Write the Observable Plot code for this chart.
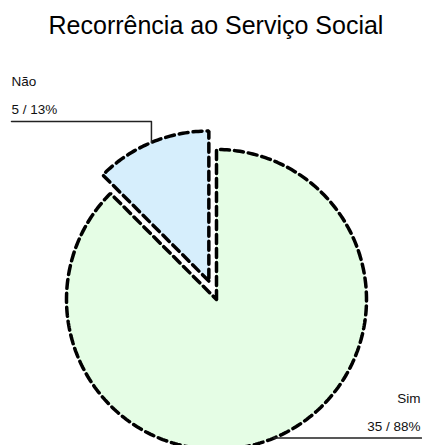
<!DOCTYPE html>
<html><head><meta charset="utf-8">
<script src="https://cdn.jsdelivr.net/npm/d3@7"></script>
<script src="https://cdn.jsdelivr.net/npm/@observablehq/plot@0.6"></script>
<style>
body{margin:0;background:#fff;font-family:"Liberation Sans",Arial,sans-serif;}
#title{height:50px;box-sizing:border-box;padding-top:13px;padding-left:10px;width:422px;text-align:center;font-size:25px;line-height:1;color:#000;white-space:nowrap;}
#chart svg{display:block;}
</style></head><body>
<div id="title">Recorrência ao Serviço Social</div>
<div id="chart"></div>
<script>
// ---- data ----
const categories = ["Sim", "Não"];
const counts = [35, 5];
const sliceColors = ["#e5fde5", "#d6eefc"];
const explodedSlices = ["Não"];

// ---- layout (pixels) ----
const W = 422, H = 395, R = 150, CX = 216, CY = 249;
const px = v => v / R; // pixel distance -> radius units
const xDomain = [-CX / R, (W - CX) / R];
const yDomain = [-(H - CY) / R, CY / R];

const total = d3.sum(counts);
const pcts = counts.map(v => Math.round(v / total * 100));
const arcs = d3.pie().sort(null)(counts);

const pt = (a, r, ox = 0, oy = 0) => ({x: ox + r * Math.sin(a), y: oy + r * Math.cos(a)});

const rows = [];
const info = [];
arcs.forEach((a, i) => {
  const cat = categories[i];
  const mid = (a.startAngle + a.endAngle) / 2;
  const off = explodedSlices.includes(cat) ? px(20) : 0;
  const o = pt(mid, off);
  rows.push({slice: cat, ...o});
  const n = Math.max(2, Math.ceil((a.endAngle - a.startAngle) / (Math.PI / 180)));
  for (let k = 0; k <= n; k++) {
    const ang = a.startAngle + (a.endAngle - a.startAngle) * k / n;
    rows.push({slice: cat, ...pt(ang, 1, o.x, o.y)});
  }
  rows.push({slice: cat, ...o});
  info.push({cat, count: counts[i], pct: pcts[i], mid, anchor: pt(mid, 1, o.x, o.y)});
});

// leaders
const leaderRows = [];
const labelRows = [];
info.forEach(d => {
  const a = d.anchor;
  const left = a.x < 0;
  let ly;
  if (a.y > 0) ly = a.y + px(21); else ly = a.y;
  const endX = left ? xDomain[0] + px(11) : xDomain[1] - px(1);
  leaderRows.push({cat: d.cat, x: a.x, y: a.y});
  if (ly !== a.y) leaderRows.push({cat: d.cat, x: a.x, y: ly});
  leaderRows.push({cat: d.cat, x: endX, y: ly});
  const tx = left ? endX : xDomain[1] - px(2);
  labelRows.push({cat: d.cat, x: tx, y: ly, name: d.cat, value: `${d.count} / ${d.pct}%`, anchor: left ? "start" : "end"});
});

const chart = Plot.plot({
  width: W, height: H, margin: 0,
  x: {domain: xDomain, axis: null},
  y: {domain: yDomain, axis: null},
  color: {domain: categories, range: sliceColors},
  style: {background: "#fff", fontFamily: "'Liberation Sans', Arial, sans-serif"},
  marks: [
    Plot.line(rows, {x: "x", y: "y", z: "slice", fill: "slice", stroke: "#000", strokeWidth: 3.5, strokeDasharray: "9,5", curve: "linear", strokeLinejoin: "miter"}),
    Plot.line(leaderRows, {x: "x", y: "y", z: "cat", stroke: "#222", strokeWidth: 1.5, curve: "linear"}),
    Plot.text(labelRows.filter(d => d.anchor === "start"), {x: "x", y: "y", text: "value", textAnchor: "start", lineAnchor: "bottom", dy: -7, fontSize: 13.5, fill: "#111"}),
    Plot.text(labelRows.filter(d => d.anchor === "start"), {x: "x", y: "y", text: "name", textAnchor: "start", lineAnchor: "bottom", dy: -35, fontSize: 13.5, fill: "#111"}),
    Plot.text(labelRows.filter(d => d.anchor === "end"), {x: "x", y: "y", text: "value", textAnchor: "end", lineAnchor: "bottom", dy: -7, fontSize: 13.5, fill: "#111"}),
    Plot.text(labelRows.filter(d => d.anchor === "end"), {x: "x", y: "y", text: "name", textAnchor: "end", lineAnchor: "bottom", dy: -35, fontSize: 13.5, fill: "#111"})
  ]
});
document.getElementById("chart").appendChild(chart);
</script>
</body></html>
